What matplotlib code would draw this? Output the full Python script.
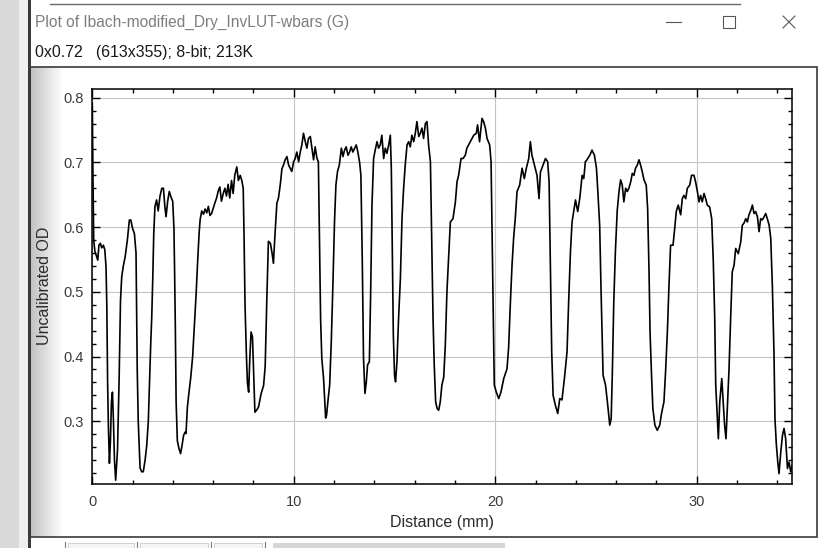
import numpy as np
import matplotlib
matplotlib.use("Agg")
import matplotlib.pyplot as plt
from matplotlib.patches import Rectangle
from matplotlib.lines import Line2D
from matplotlib.colors import LinearSegmentedColormap
from matplotlib.ticker import MultipleLocator

# ---------------- data ----------------
window_title = "Plot of Ibach-modified_Dry_InvLUT-wbars (G)"
window_subtitle = "0x0.72   (613x355); 8-bit; 213K"
x_label = "Distance (mm)"
y_label = "Uncalibrated OD"

distance_mm = [
    0.00, 0.03, 0.07, 0.13, 0.20, 0.27, 0.33, 0.40, 0.47, 0.55, 0.62, 0.68, 0.72, 0.76, 0.80, 0.85,
    0.90, 0.95, 1.00, 1.05, 1.10, 1.16, 1.25, 1.33, 1.40, 1.46, 1.54, 1.63, 1.74, 1.84, 1.91, 2.00,
    2.09, 2.17, 2.20, 2.23, 2.28, 2.37, 2.45, 2.53, 2.62, 2.70, 2.78, 2.84, 2.90, 2.95, 3.00, 3.05,
    3.11, 3.19, 3.27, 3.36, 3.45, 3.53, 3.60, 3.66, 3.74, 3.82, 3.91, 3.99, 4.05, 4.08, 4.12, 4.16,
    4.22, 4.30, 4.38, 4.45, 4.53, 4.60, 4.65, 4.72, 4.80, 4.89, 4.98, 5.07, 5.15, 5.23, 5.30, 5.35,
    5.43, 5.52, 5.60, 5.68, 5.76, 5.84, 5.92, 6.01, 6.09, 6.17, 6.25, 6.33, 6.41, 6.50, 6.58, 6.66,
    6.74, 6.82, 6.91, 6.99, 7.07, 7.17, 7.25, 7.34, 7.42, 7.49, 7.53, 7.58, 7.65, 7.70, 7.76, 7.82,
    7.88, 7.95, 8.00, 8.07, 8.15, 8.25, 8.38, 8.50, 8.58, 8.66, 8.74, 8.84, 8.92, 8.99, 9.05, 9.16,
    9.24, 9.33, 9.41, 9.49, 9.57, 9.66, 9.74, 9.82, 9.90, 9.99, 10.07, 10.15, 10.24, 10.32, 10.40, 10.48,
    10.57, 10.65, 10.73, 10.82, 10.90, 10.98, 11.06, 11.15, 11.22, 11.27, 11.33, 11.39, 11.48, 11.58, 11.63, 11.69,
    11.78, 11.86, 11.94, 12.02, 12.09, 12.17, 12.26, 12.36, 12.44, 12.52, 12.60, 12.69, 12.77, 12.85, 12.93, 13.02,
    13.10, 13.18, 13.27, 13.33, 13.40, 13.46, 13.53, 13.60, 13.66, 13.75, 13.81, 13.88, 13.96, 14.04, 14.13, 14.21,
    14.29, 14.37, 14.46, 14.54, 14.62, 14.71, 14.79, 14.84, 14.89, 14.94, 15.00, 15.05, 15.12, 15.20, 15.29, 15.37,
    15.45, 15.53, 15.62, 15.70, 15.78, 15.86, 15.95, 16.03, 16.11, 16.20, 16.28, 16.36, 16.44, 16.53, 16.61, 16.69,
    16.78, 16.84, 16.91, 16.97, 17.04, 17.11, 17.19, 17.27, 17.35, 17.44, 17.52, 17.60, 17.68, 17.77, 17.90, 18.02,
    18.10, 18.18, 18.30, 18.40, 18.51, 18.59, 18.76, 18.93, 19.06, 19.12, 19.22, 19.34, 19.42, 19.51, 19.59, 19.72,
    19.79, 19.84, 19.89, 19.95, 20.05, 20.17, 20.28, 20.42, 20.58, 20.66, 20.75, 20.83, 20.91, 20.99, 21.08, 21.21,
    21.33, 21.44, 21.54, 21.66, 21.74, 21.82, 21.94, 22.07, 22.17, 22.24, 22.37, 22.49, 22.60, 22.67, 22.73, 22.80,
    22.87, 22.98, 23.10, 23.20, 23.31, 23.43, 23.56, 23.64, 23.73, 23.81, 23.89, 23.98, 24.09, 24.19, 24.31, 24.39,
    24.47, 24.55, 24.69, 24.80, 24.92, 25.02, 25.08, 25.18, 25.25, 25.35, 25.47, 25.58, 25.68, 25.75, 25.81, 25.88,
    25.96, 26.05, 26.14, 26.22, 26.30, 26.38, 26.47, 26.55, 26.63, 26.72, 26.80, 26.88, 26.96, 27.05, 27.13, 27.21,
    27.29, 27.38, 27.49, 27.56, 27.63, 27.68, 27.76, 27.82, 27.92, 28.04, 28.16, 28.25, 28.37, 28.45, 28.54, 28.62,
    28.70, 28.82, 28.92, 28.98, 29.08, 29.20, 29.28, 29.36, 29.45, 29.53, 29.65, 29.74, 29.86, 29.94, 30.03, 30.11,
    30.19, 30.27, 30.36, 30.44, 30.52, 30.64, 30.74, 30.82, 30.89, 30.94, 31.02, 31.07, 31.14, 31.24, 31.30, 31.38,
    31.45, 31.52, 31.60, 31.68, 31.76, 31.85, 31.93, 32.06, 32.18, 32.26, 32.34, 32.43, 32.51, 32.59, 32.68, 32.76,
    32.84, 32.92, 33.01, 33.09, 33.17, 33.25, 33.34, 33.42, 33.50, 33.59, 33.67, 33.75, 33.83, 33.88, 33.95, 34.02,
    34.08, 34.17, 34.25, 34.33, 34.41, 34.50, 34.58, 34.66, 34.74,
]

od = [
    0.791, 0.686, 0.580, 0.562, 0.556, 0.549, 0.572, 0.575, 0.568, 0.572, 0.565, 0.539, 0.480, 0.360, 0.291, 0.235,
    0.270, 0.330, 0.345, 0.300, 0.240, 0.209, 0.255, 0.364, 0.487, 0.523, 0.540, 0.554, 0.580, 0.611, 0.611, 0.598,
    0.590, 0.560, 0.472, 0.380, 0.300, 0.228, 0.222, 0.222, 0.240, 0.262, 0.300, 0.359, 0.420, 0.461, 0.520, 0.590,
    0.632, 0.642, 0.625, 0.648, 0.660, 0.660, 0.632, 0.616, 0.640, 0.655, 0.646, 0.640, 0.600, 0.541, 0.448, 0.330,
    0.270, 0.258, 0.250, 0.262, 0.278, 0.283, 0.281, 0.322, 0.345, 0.369, 0.400, 0.450, 0.495, 0.548, 0.590, 0.611,
    0.625, 0.620, 0.628, 0.622, 0.632, 0.618, 0.621, 0.630, 0.638, 0.645, 0.656, 0.662, 0.640, 0.652, 0.660, 0.648,
    0.666, 0.645, 0.672, 0.652, 0.680, 0.693, 0.672, 0.680, 0.672, 0.660, 0.588, 0.479, 0.400, 0.359, 0.345, 0.400,
    0.438, 0.430, 0.380, 0.314, 0.317, 0.322, 0.343, 0.355, 0.385, 0.487, 0.578, 0.575, 0.560, 0.544, 0.580, 0.637,
    0.645, 0.666, 0.690, 0.696, 0.704, 0.709, 0.696, 0.691, 0.686, 0.701, 0.706, 0.716, 0.701, 0.716, 0.727, 0.745,
    0.732, 0.722, 0.737, 0.740, 0.722, 0.704, 0.724, 0.706, 0.701, 0.588, 0.459, 0.397, 0.365, 0.305, 0.310, 0.330,
    0.356, 0.423, 0.510, 0.608, 0.665, 0.686, 0.696, 0.722, 0.709, 0.719, 0.724, 0.711, 0.716, 0.724, 0.716, 0.722,
    0.727, 0.716, 0.699, 0.680, 0.546, 0.397, 0.343, 0.361, 0.387, 0.392, 0.490, 0.634, 0.706, 0.719, 0.732, 0.722,
    0.727, 0.742, 0.706, 0.722, 0.714, 0.727, 0.742, 0.691, 0.562, 0.433, 0.371, 0.361, 0.392, 0.459, 0.521, 0.613,
    0.660, 0.696, 0.727, 0.732, 0.724, 0.742, 0.732, 0.745, 0.763, 0.740, 0.745, 0.753, 0.737, 0.760, 0.763, 0.727,
    0.701, 0.588, 0.459, 0.387, 0.330, 0.320, 0.317, 0.330, 0.356, 0.368, 0.418, 0.500, 0.552, 0.608, 0.613, 0.639,
    0.670, 0.680, 0.706, 0.706, 0.711, 0.722, 0.732, 0.742, 0.745, 0.758, 0.732, 0.768, 0.763, 0.753, 0.737, 0.727,
    0.701, 0.593, 0.484, 0.356, 0.345, 0.335, 0.345, 0.366, 0.381, 0.413, 0.484, 0.541, 0.583, 0.613, 0.655, 0.665,
    0.691, 0.675, 0.691, 0.706, 0.732, 0.711, 0.696, 0.680, 0.644, 0.685, 0.696, 0.706, 0.701, 0.670, 0.546, 0.407,
    0.340, 0.325, 0.312, 0.335, 0.333, 0.366, 0.407, 0.484, 0.562, 0.608, 0.624, 0.642, 0.624, 0.644, 0.680, 0.675,
    0.701, 0.704, 0.711, 0.719, 0.711, 0.691, 0.660, 0.603, 0.500, 0.371, 0.356, 0.325, 0.294, 0.304, 0.376, 0.484,
    0.562, 0.625, 0.655, 0.673, 0.665, 0.639, 0.660, 0.655, 0.660, 0.670, 0.683, 0.680, 0.691, 0.696, 0.704, 0.696,
    0.686, 0.673, 0.665, 0.629, 0.531, 0.438, 0.366, 0.320, 0.294, 0.286, 0.294, 0.312, 0.330, 0.376, 0.438, 0.510,
    0.572, 0.572, 0.603, 0.624, 0.634, 0.619, 0.644, 0.649, 0.644, 0.660, 0.665, 0.680, 0.680, 0.670, 0.655, 0.639,
    0.649, 0.639, 0.652, 0.644, 0.634, 0.631, 0.613, 0.546, 0.459, 0.356, 0.304, 0.273, 0.330, 0.366, 0.335, 0.294,
    0.273, 0.325, 0.381, 0.459, 0.531, 0.541, 0.567, 0.559, 0.577, 0.603, 0.606, 0.613, 0.608, 0.619, 0.626, 0.634,
    0.621, 0.624, 0.616, 0.593, 0.613, 0.611, 0.616, 0.621, 0.613, 0.603, 0.583, 0.510, 0.407, 0.304, 0.263, 0.237,
    0.219, 0.253, 0.278, 0.289, 0.273, 0.227, 0.237, 0.222, 0.232,
]

x_range = (0.0, 34.74)
y_range = (0.2026, 0.8134)

# ---------------- figure ----------------
W, H = 821, 548
fig = plt.figure(figsize=(W / 100, H / 100), dpi=100)
fig.patch.set_facecolor("white")

# background / window chrome, drawn in pixel coordinates
bg = fig.add_axes([0, 0, 1, 1], zorder=0)
bg.set_axis_off()

cmap = LinearSegmentedColormap.from_list("shade", ["#c2c2c2", "#ffffff"])
bg.imshow(np.linspace(0, 1, 64).reshape(1, -1), extent=[30.5, 62, 537, 67],
          cmap=cmap, aspect="auto", interpolation="bilinear", zorder=1)
bg.add_patch(Rectangle((0, 0), 19, H, color="#d9d9d9", lw=0, zorder=2))
bg.add_patch(Rectangle((19, 0), 9, H, color="#efefef", lw=0, zorder=2))
bg.add_patch(Rectangle((28, 0), 2.5, H, color="#3a3a3a", lw=0, zorder=3))
# canvas frame
bg.add_patch(Rectangle((30, 67), 787, 470, fill=False, edgecolor="#3a3a3a", lw=1.2, zorder=3))
# top edge line
bg.add_artist(Line2D([50, 740], [4, 4], color="#6a6a6a", lw=1.0, zorder=3))
# bottom button strip
for bx in [65, 137, 211, 265]:
    bg.add_artist(Line2D([bx, bx], [542, 548], color="#7a7a7a", lw=0.8, zorder=3))
for bx0, bx1 in [(68, 134), (140, 208), (214, 262)]:
    bg.add_patch(Rectangle((bx0, 543), bx1 - bx0, 6, facecolor="#f4f4f4",
                           edgecolor="#c8c8c8", lw=0.6, zorder=3))
bg.add_patch(Rectangle((273, 543), 232, 6, color="#d6d6d6", lw=0, zorder=3))

bg.text(35, 22, window_title, color="#7d7d7d", fontsize=11.2,
        family="Liberation Sans", va="center", ha="left", zorder=4)
bg.text(35, 53, window_subtitle, color="#1a1a1a", fontsize=11.4,
        family="Liberation Sans", va="center", ha="left", zorder=4)
# window buttons
bg.add_artist(Line2D([666, 681], [22, 22], color="#555555", lw=0.8, zorder=4))
bg.add_patch(Rectangle((723, 16), 12, 12, fill=False, edgecolor="#555555", lw=0.8, zorder=4))
bg.add_artist(Line2D([783, 795], [16, 28], color="#555555", lw=0.8, zorder=4))
bg.add_artist(Line2D([783, 795], [28, 16], color="#555555", lw=0.8, zorder=4))

bg.set_xlim(0, W)
bg.set_ylim(H, 0)

# ---------------- plot axes ----------------
left, right, top, bottom = 92.3, 792.3, 89.0, 484.3
ax = fig.add_axes([left / W, 1 - bottom / H, (right - left) / W, (bottom - top) / H], zorder=5)
ax.set_facecolor("white")

ax.plot(distance_mm, od, color="black", lw=1.2, zorder=3)

ax.set_xlim(*x_range)
ax.set_ylim(*y_range)
ax.xaxis.set_major_locator(MultipleLocator(10))
ax.xaxis.set_minor_locator(MultipleLocator(2))
ax.yaxis.set_major_locator(MultipleLocator(0.1))
ax.yaxis.set_minor_locator(MultipleLocator(0.02))
ax.yaxis.set_major_formatter(plt.FuncFormatter(lambda v, p: f"{v:.1f}"))

ax.grid(True, which="major", color="#c4c4c4", lw=0.8, zorder=1)
ax.set_axisbelow(True)
ax.tick_params(which="both", direction="in", top=True, right=True,
               labeltop=False, labelright=False, color="black", width=1.0)
ax.tick_params(which="major", length=6)
ax.tick_params(which="minor", length=3)
ax.tick_params(axis="y", which="major", pad=6.5, labelsize=10.5, labelcolor="#3a3a3a")
ax.tick_params(axis="x", which="major", pad=8, labelsize=10.5, labelcolor="#3a3a3a")
for lab in ax.get_xticklabels() + ax.get_yticklabels():
    lab.set_family("Liberation Sans")
for sp in ax.spines.values():
    sp.set_color("black")
    sp.set_linewidth(1.1)

ax.set_xlabel(x_label, fontsize=11.5, family="Liberation Sans", color="#2a2a2a")
ax.set_ylabel(y_label, fontsize=11.5, family="Liberation Sans", color="#2a2a2a")
ax.xaxis.label.set_va("center")
ax.yaxis.label.set_va("center")
ax.xaxis.set_label_coords(0.5, (bottom - 522) / (bottom - top))
ax.yaxis.set_label_coords((45 - left) / (right - left), (bottom - 286) / (bottom - top))

fig.savefig("out.png", dpi=100, facecolor="white")
